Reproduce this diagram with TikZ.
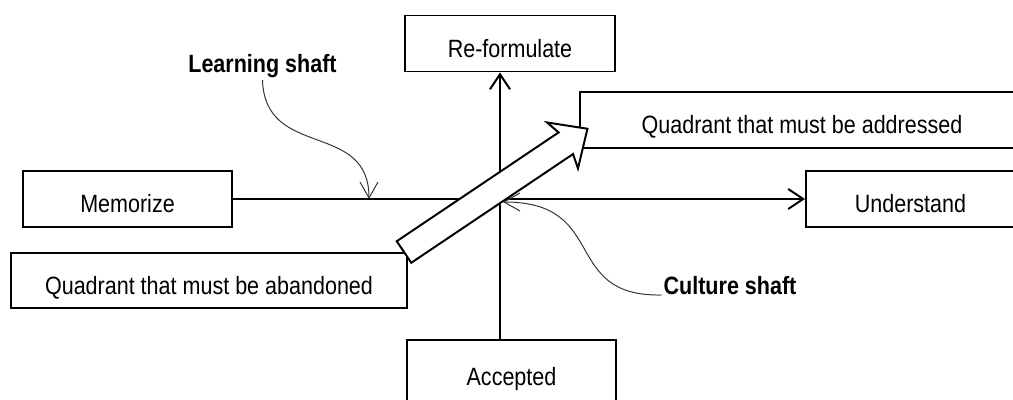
\documentclass[tikz,border=0pt]{standalone}
\usepackage{fontspec}
\setmainfont{Liberation Sans}[FakeStretch=0.86]
\usetikzlibrary{arrows.meta}

\begin{document}
\begin{tikzpicture}[x=0.025cm, y=0.025cm, font=\fontsize{17.8}{21}\selectfont,
    box/.style={draw, line width=1.4pt, minimum width=5.225cm, minimum height=1.4cm, inner sep=0pt, text height=19.9pt, text depth=0pt},
    axis/.style={line width=1.4pt, -{Straight Barb[length=3.75mm, width=5mm]}},
    shaft/.style={line width=0.7pt, black!80, -{Straight Barb[length=4mm, width=4.5mm]}},
    tag/.style={font=\fontsize{17.8}{21}\selectfont\bfseries, anchor=base, inner sep=1pt}]
  \useasboundingbox (0,0) rectangle (1013,400);

  % Define boxes
  \node[box] (reform) at (510,356.5) {Re-formulate};
  \node[box, minimum height=1.6cm] (accept) at (511.5,28) {Accepted};
  \node[box] (memo) at (127.5,201) {Memorize};
  \node[box] (under) at (910.5,201) {Understand};
  \node[box, minimum width=11.1cm] (addr) at (802,280) {Quadrant that must be addressed};
  \node[box, minimum width=9.9cm, minimum height=1.375cm] (aband) at (209,119.5) {Quadrant that must be abandoned};

  % Shaft labels
  \node[tag] (learn) at (262.5,327) {Learning shaft};
  \node[tag] (cult) at (730,105) {Culture shaft};

  \coordinate (o) at (500,201);
  \coordinate (lend) at (369,201);
  \coordinate (cend) at (503,198);

  % Draw axes
  \draw[axis] (accept.north -| o) -- (reform.south -| o);
  \draw[axis] (memo) -- (under);

  % Draw curved pointers
  \draw[shaft] (learn.south) .. controls (265,240) and (369,280) .. (lend);
  \draw[shaft] (cult.base west) .. controls (560,103) and (610,198) .. (cend);

  % Draw the big arrow
  \begin{scope}[shift={(404,148)}, rotate=33.9]
    \draw[line width=1.4pt, fill=white] (0,-13) -- (195,-13) -- (191,-27.7) -- (221,0) -- (191,27.7) -- (195,13) -- (0,13) -- cycle;
  \end{scope}
\end{tikzpicture}
\end{document}
